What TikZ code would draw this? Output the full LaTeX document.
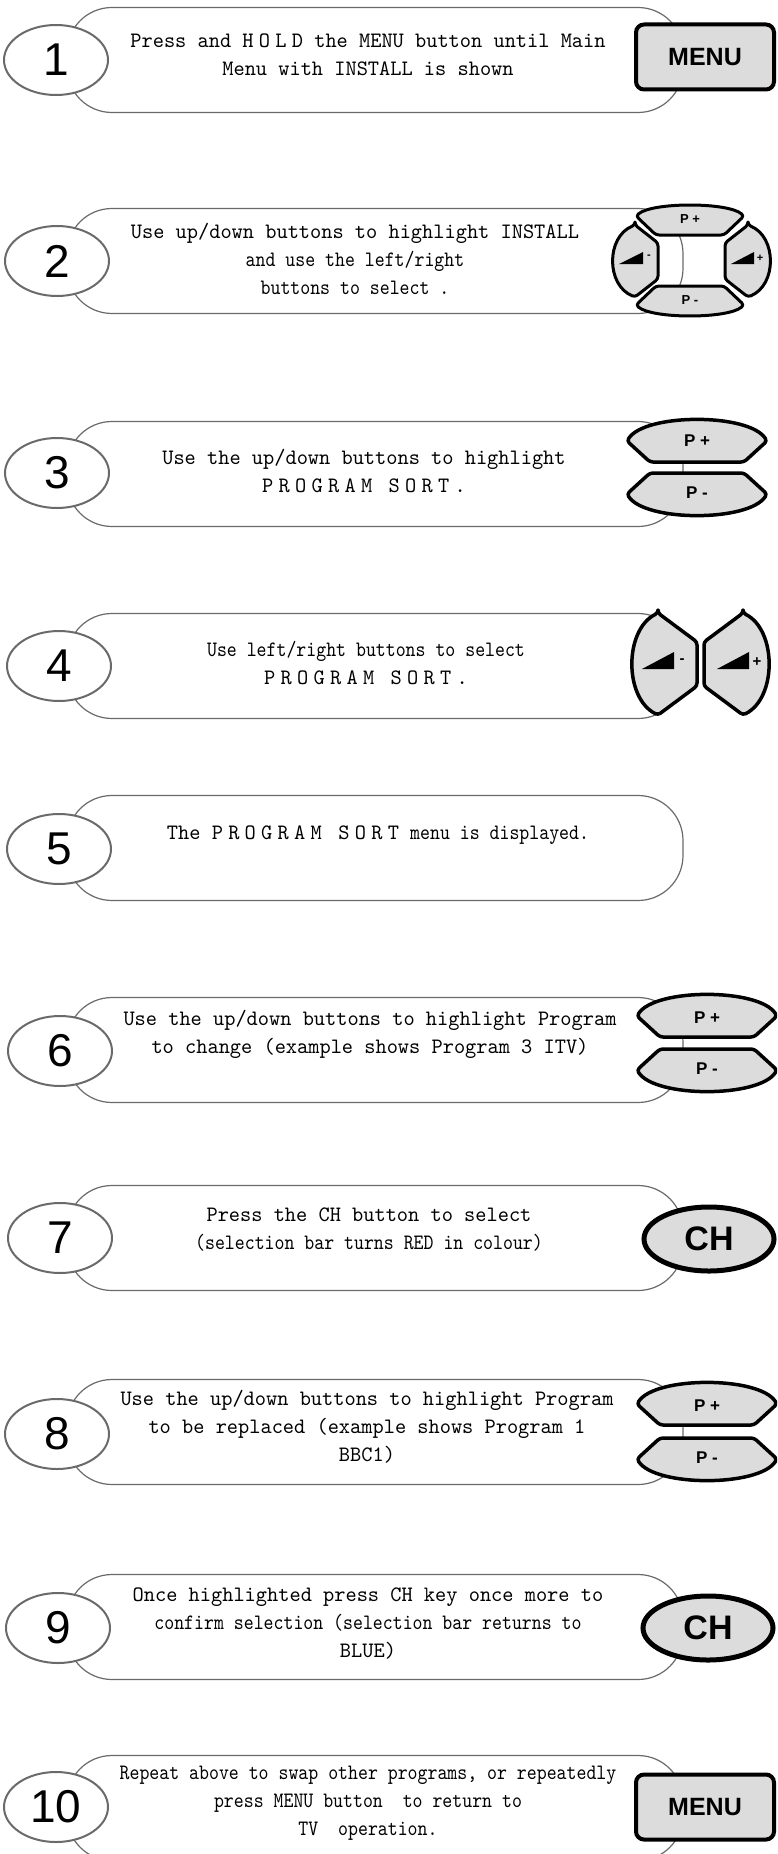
\documentclass[tikz,border=0pt]{standalone}
\usepackage{fontspec}
\setmainfont{lmmono10-regular.otf}[FakeStretch=0.97]
\newfontfamily\narrowfont{lmmono10-regular.otf}[FakeStretch=0.86]
\newfontfamily\widefont{lmmono10-regular.otf}[FakeStretch=0.97,LetterSpace=24]
\newfontfamily\keyfont{Liberation Sans}
\newfontfamily\numfont{Liberation Sans}
\usetikzlibrary{shapes.geometric}
\definecolor{rim}{HTML}{6A6A6A}
\definecolor{keygray}{HTML}{DCDCDC}
% key outlines, drawn round the origin
\newcommand\pkey{(-70,0) .. controls (-52,-28) and (52,-28) .. (70,0) -- (47,21) -- (-47,21) -- cycle}
\newcommand\smallpkey{(-54,0) .. controls (-38,-14) and (38,-14) .. (54,0) -- (34,19) -- (-34,19) -- cycle}
\newcommand\volkey{(0,-51) -- (39,-22) -- (39,22) -- (0,51) .. controls (-34,34) and (-34,-34) .. cycle}
\newcommand\smallvolkey{(0,-36) -- (23,-18) -- (23,18) -- (0,36) .. controls (-29,24) and (-29,-24) .. cycle}

\begin{document}
\begin{tikzpicture}[x=1pt,y=-1pt]
  \tikzset{stepbox/.style={draw=rim, line width=1.2pt, rounded corners=45pt, minimum width=616pt, minimum height=105pt, inner sep=0pt}}
  \tikzset{stepnum/.style={ellipse, draw=rim, line width=2pt, fill=white, minimum width=104pt, minimum height=70pt, inner sep=0pt, font=\numfont\fontsize{46}{46}\selectfont}}
  \tikzset{steptext/.style={align=center, inner sep=0pt, font=\fontsize{22}{28}\selectfont}}
  \tikzset{key/.style={draw=black, fill=keygray, line width=3.5pt, rounded corners=3pt, line join=round}}
  \tikzset{keylabel/.style={inner sep=0pt, font=\keyfont\bfseries\fontsize{17}{17}\selectfont}}
  \tikzset{smalllabel/.style={inner sep=0pt, font=\keyfont\bfseries\fontsize{13}{13}\selectfont}}
  \tikzset{menukey/.style={draw=black, fill=keygray, line width=4pt, rounded corners=8pt, minimum width=138pt, minimum height=65pt, font=\keyfont\bfseries\fontsize{25}{25}\selectfont}}
  \tikzset{chkey/.style={ellipse, draw=black, fill=keygray, line width=5pt, minimum width=130pt, minimum height=64pt, inner sep=0pt, font=\keyfont\bfseries\fontsize{34}{34}\selectfont}}

  \useasboundingbox (0,0) rectangle (777,1854);
  \clip (0,0) rectangle (777,1854);

  % step 1
  \node[stepbox] (b1) at (375,60) {};
  \node[stepnum] (n1) at (56,60) {1};
  \node[steptext] (t1) at (368,55) {Press and {\widefont HOLD} the MENU button until Main\\Menu with INSTALL is shown};
  \node[menukey] (m1) at (705,57) {MENU};

  % step 2
  \node[stepbox] (b2) at (375,261) {};
  \node[stepnum] (n2) at (57,261) {2};
  \node[steptext] (t2) at (355,259) {Use up/down buttons to highlight INSTALL\\{\narrowfont and use the left/right}\\{\narrowfont buttons to select .}};
  \draw[key, line width=3pt, shift={(690,216)}] \smallpkey;
  \draw[key, line width=3pt, shift={(690,305)}, yscale=-1] \smallpkey;
  \draw[key, line width=3pt, shift={(635,261)}] \smallvolkey;
  \draw[key, line width=3pt, shift={(748,261)}, xscale=-1] \smallvolkey;
  \node[smalllabel] (u2) at (690,219) {P +};
  \node[smalllabel] (d2) at (690,300) {P -};
  \fill (619,264) -- (643,264) -- (643,252) -- cycle;
  \node[smalllabel, font=\keyfont\bfseries\fontsize{11}{11}\selectfont] (l2) at (649,257) {-};
  \fill (731,264) -- (754,264) -- (754,252) -- cycle;
  \node[smalllabel, font=\keyfont\bfseries\fontsize{11}{11}\selectfont] (r2) at (760,258) {+};

  % step 3
  \node[stepbox] (b3) at (375,474) {};
  \node[stepnum] (n3) at (57,473) {3};
  \node[steptext] (t3) at (364,471) {Use the up/down buttons to highlight\\{\widefont PROGRAM SORT.}};
  \draw[key, shift={(697,441)}] \pkey;
  \draw[key, shift={(697,494)}, yscale=-1] \pkey;
  \node[keylabel] (u3) at (697,441) {P +};
  \node[keylabel] (d3) at (697,493) {P -};

  % step 4
  \node[stepbox] (b4) at (375,666) {};
  \node[stepnum] (n4) at (59,666) {4};
  \node[steptext] (t4) at (366,663) {{\narrowfont Use left/right buttons to select}\\{\widefont PROGRAM SORT.}};
  \draw[key, shift={(658,664)}] \volkey;
  \draw[key, shift={(743,664)}, xscale=-1] \volkey;
  \fill (642,669) -- (674,669) -- (674,652) -- cycle;
  \node[keylabel, font=\keyfont\bfseries\fontsize{15}{15}\selectfont] (l4) at (682,661) {-};
  \fill (717,669) -- (749,669) -- (749,652) -- cycle;
  \node[keylabel, font=\keyfont\bfseries\fontsize{15}{15}\selectfont] (r4) at (757,662) {+};

  % step 5
  \node[stepbox] (b5) at (375,848) {};
  \node[stepnum] (n5) at (59,849) {5};
  \node[steptext] (t5) at (378,835) {The {\widefont PROGRAM SORT} {\narrowfont menu is displayed.}};

  % step 6
  \node[stepbox] (b6) at (375,1050) {};
  \node[stepnum] (n6) at (60,1051) {6};
  \node[steptext] (t6) at (370,1034) {Use the up/down buttons to highlight Program\\to change (example shows Program 3 ITV)};
  \draw[key, shift={(707,1016)}] \pkey;
  \draw[key, shift={(707,1070)}, yscale=-1] \pkey;
  \node[keylabel] (u6) at (707,1018) {P +};
  \node[keylabel] (d6) at (707,1069) {P -};

  % step 7
  \node[stepbox] (b7) at (375,1238) {};
  \node[stepnum] (n7) at (60,1238) {7};
  \node[steptext] (t7) at (369,1230) {Press the CH button to select\\{\narrowfont (selection bar turns RED in colour)}};
  \node[chkey] (c7) at (709,1239) {CH};

  % step 8
  \node[stepbox] (b8) at (375,1432) {};
  \node[stepnum] (n8) at (57,1434) {8};
  \node[steptext] (t8) at (367,1427) {Use the up/down buttons to highlight Program\\to be replaced (example shows Program 1\\BBC1)};
  \draw[key, shift={(707,1404)}] \pkey;
  \draw[key, shift={(707,1459)}, yscale=-1] \pkey;
  \node[keylabel] (u8) at (707,1406) {P +};
  \node[keylabel] (d8) at (707,1458) {P -};

  % step 9
  \node[stepbox] (b9) at (375,1627) {};
  \node[stepnum] (n9) at (58,1628) {9};
  \node[steptext] (t9) at (368,1624) {Once highlighted press CH key once more to\\{\narrowfont confirm selection (selection bar returns to}\\BLUE)};
  \node[chkey] (c9) at (708,1628) {CH};

  % step 10
  \node[stepbox] (b10) at (375,1808) {};
  \node[stepnum] (n10) at (56,1807) {10};
  \node[steptext, font=\narrowfont\fontsize{22}{28}\selectfont] (t10) at (368,1803) {Repeat above to swap other programs, or repeatedly\\press MENU button~~to return to\\TV~~operation.};
  \node[menukey] (m10) at (705,1807) {MENU};
\end{tikzpicture}
\end{document}
